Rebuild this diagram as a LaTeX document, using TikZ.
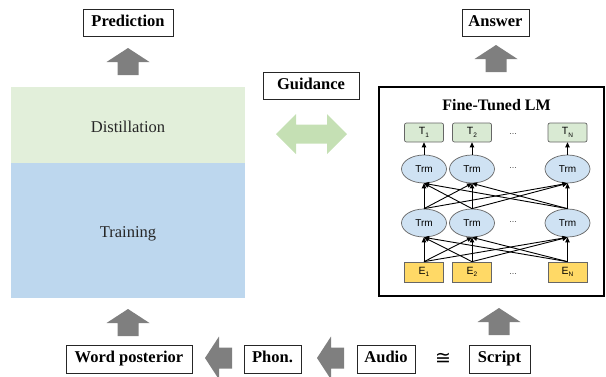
\documentclass[tikz,border=0pt]{standalone}
\usepackage{fontspec}
\setmainfont{Liberation Serif}
\newfontfamily\lsans{Liberation Sans}
\newfontfamily\dvsans{DejaVu Sans}
\usetikzlibrary{shapes.geometric,arrows.meta}
\definecolor{arrgray}{HTML}{7F7F7F}
\definecolor{distgreen}{HTML}{E2EFDA}
\definecolor{trainblue}{HTML}{BDD7EE}
\definecolor{guidegreen}{HTML}{C5E0B4}
\definecolor{tgreen}{HTML}{D9EAD3}
\definecolor{trmblue}{HTML}{CFE2F3}
\definecolor{eyellow}{HTML}{FFD966}
\definecolor{bordergray}{HTML}{666666}
\tikzset{
  lbl/.style={draw=black!85, line width=0.8pt, font=\bfseries\fontsize{16.5}{18}\selectfont,
    inner sep=0pt, minimum height=27pt, text height=0.72em, text depth=0em},
  tbox/.style={draw=bordergray, fill=tgreen, rounded corners=2pt, line width=0.7pt,
    minimum width=39pt, minimum height=19pt, inner sep=0pt, font=\lsans\fontsize{10.5}{10}\selectfont},
  ebox/.style={draw=bordergray, fill=eyellow, line width=0.7pt,
    minimum width=39pt, minimum height=20pt, inner sep=0pt, font=\lsans\fontsize{10.5}{10}\selectfont},
  trm/.style={ellipse, draw=bordergray, fill=trmblue, line width=0.7pt,
    minimum width=45pt, minimum height=28pt, inner sep=0pt, font=\lsans\fontsize{10}{10}\selectfont},
  dots/.style={font=\lsans\fontsize{9}{9}\selectfont, text=black!70, inner sep=0pt},
  conn/.style={line width=0.9pt, -{Triangle[length=5pt,width=4.5pt]}},
  panel/.style={font=\fontsize{16.5}{18}\selectfont, text=black!85, anchor=base},
  uparr/.pic={\fill[arrgray] (0,0) -- (21.5,14) -- (10.5,14) -- (10.5,27) -- (-10.5,27) -- (-10.5,14) -- (-21.5,14) -- cycle;},
  leftarr/.pic={\fill[arrgray] (0,0) -- (14,-21.5) -- (14,-10.5) -- (27,-10.5) -- (27,10.5) -- (14,10.5) -- (14,21.5) -- cycle;}
}
\newcommand{\sub}[2]{#1\raisebox{-2.5pt}{\fontsize{6.5}{6.5}\selectfont #2}}
\begin{document}
\begin{tikzpicture}[x=1pt,y=-1pt]
\useasboundingbox (0,0) rectangle (606,376);

% left panel
\fill[distgreen] (11,87) rectangle (245,163);
\fill[trainblue] (11,163) rectangle (245,298);
\node[panel] (dist) at (128,132) {Distillation};
\node[panel] (train) at (128,237) {Training};

% label boxes
\node[lbl, minimum width=90pt] (pred) at (128,22.5) {Prediction};
\node[lbl, minimum width=67pt] (ans) at (495.5,22.5) {Answer};
\node[lbl, minimum width=96pt] (guide) at (311,85.5) {Guidance};
\node[lbl, minimum width=126pt, minimum height=28pt] (wp) at (129,359) {Word posterior};
\node[lbl, minimum width=57pt, minimum height=28pt] (phon) at (272.5,359) {Phon.};
\node[lbl, minimum width=58pt, minimum height=28pt] (audio) at (386,359) {Audio};
\node[lbl, minimum width=61pt, minimum height=28pt] (script) at (499.5,359) {Script};
\node[font=\dvsans\fontsize{19}{20}\selectfont, inner sep=0pt] (cong) at (443,359) {≅};

% block arrows
\pic at (128,48) {uparr};
\pic at (496,45) {uparr};
\pic at (128,309) {uparr};
\pic at (499,308) {uparr};
\pic at (205,358) {leftarr};
\pic at (317,358) {leftarr};
\fill[guidegreen] (276,134) -- (296,114) -- (296,124.5) -- (327,124.5) -- (327,114) -- (347,134)
  -- (327,154) -- (327,143.5) -- (296,143.5) -- (296,154) -- cycle;

% fine-tuned LM box
\draw[line width=2.5pt] (379,87) rectangle (604,296);
\node[font=\bfseries\fontsize{16}{18}\selectfont, anchor=base] (title) at (496.5,110) {Fine-Tuned LM};

\node[tbox] (t1) at (424,132.5) {\sub{T}{1}};
\node[tbox] (t2) at (472,132.5) {\sub{T}{2}};
\node[tbox] (tn) at (567.5,132.5) {\sub{T}{N}};
\node[trm] (a1) at (424,169) {Trm};
\node[trm] (a2) at (472,169) {Trm};
\node[trm] (an) at (567.5,169) {Trm};
\node[trm] (b1) at (424,223) {Trm};
\node[trm] (b2) at (472,223) {Trm};
\node[trm] (bn) at (567.5,223) {Trm};
\node[ebox] (e1) at (424,272) {\sub{E}{1}};
\node[ebox] (e2) at (472,272) {\sub{E}{2}};
\node[ebox] (en) at (567.5,272) {\sub{E}{N}};
\node[dots] (d1) at (513,134) {...};
\node[dots] (d2) at (513,168) {...};
\node[dots] (d3) at (513,222) {...};
\node[dots] (d4) at (513,274) {...};

\foreach \i in {1,2,n}{
  \draw[conn] (a\i.north) -- (t\i.south);
  \foreach \j in {1,2,n}{
    \draw[conn] (b\i.north) -- (a\j.south);
    \draw[conn] (e\i.north) -- (b\j.south);
  }
}
\end{tikzpicture}
\end{document}
